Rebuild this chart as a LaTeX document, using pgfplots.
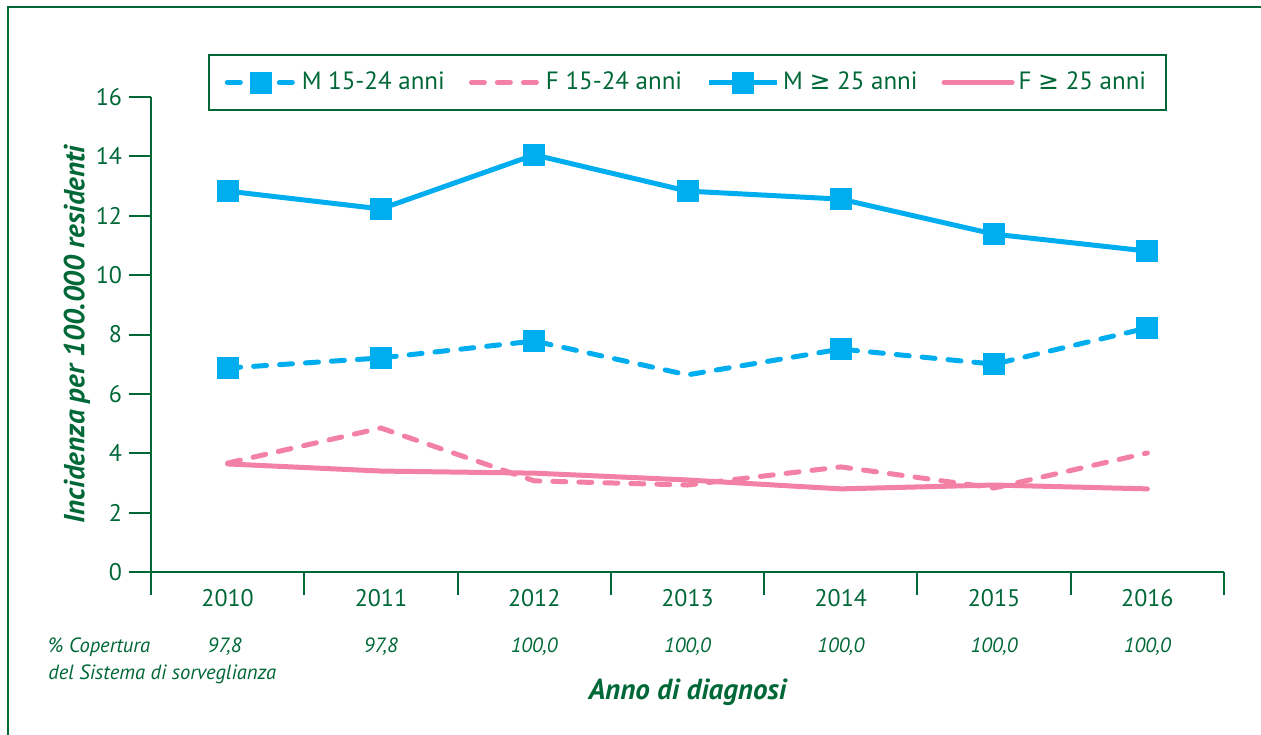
\documentclass[border=0pt]{standalone}
\usepackage{pgfplots}
\pgfplotsset{compat=1.18}
\usepackage{fontspec}
\setmainfont{PT Sans}
\newfontfamily\dejavu{DejaVu Sans}
\definecolor{dgreen}{RGB}{0,104,55}
\definecolor{cblue}{RGB}{0,174,239}
\definecolor{cpink}{RGB}{243,128,165}

\pgfplotstableread{
x  m1524 f1524 m25  f25
0  6.87  3.67  12.83 3.64
1  7.21  4.85  12.23 3.40
2  7.78  3.07  14.05 3.33
3  6.64  2.93  12.83 3.10
4  7.51  3.54  12.56 2.80
5  7.00  2.83  11.38 2.93
6  8.22  4.01  10.81 2.80
}\datatable

\begin{document}
\begin{tikzpicture}[x=1pt,y=1pt]
\useasboundingbox (0,0) rectangle (630.5,367);
\draw[dgreen, line width=0.8pt] (4,-10) -- (4,363.5) -- (640,363.5);
\begin{axis}[
  at={(75.5pt,81pt)}, anchor=south west,
  scale only axis, width=536.5pt, height=237.5pt,
  xmin=-0.5, xmax=6.5, ymin=0, ymax=16,
  clip=false,
  axis x line*=bottom, axis y line*=left,
  axis line style={dgreen, line width=1pt},
  tick align=outside,
  xtick={0,...,6},
  xticklabels={2010,2011,2012,2013,2014,2015,2016},
  minor xtick={-0.5,0.5,1.5,2.5,3.5,4.5,5.5,6.5},
  major x tick style={draw=none},
  ytick={0,2,...,16},
  major tick length=11pt,
  minor tick length=11.5pt,
  tick style={dgreen, line width=1pt},
  ticklabel style={font=\fontsize{12}{14}\selectfont, text=dgreen},
  xticklabel style={yshift=6pt},
  /pgf/number format/assume math mode=true,
  legend columns=4,
  legend style={at={(0.5,1.0305)}, anchor=center, draw=dgreen, line width=1pt,
    font=\fontsize{12.5}{15}\selectfont, text=dgreen,
    inner xsep=8pt, inner ysep=6.5pt,
    /tikz/every even column/.append style={column sep=10pt}},
  legend image code/.code={\draw[#1, mark indices={2}] plot coordinates {(0pt,0pt) (17pt,0pt) (34pt,0pt)};},
]
\addplot[cblue, line width=2.5pt, line cap=round, dash pattern=on 6.5pt off 6.5pt,
  mark=square*, mark size=5.25pt, mark options={solid, line width=0.5pt, draw=cblue, fill=cblue},
  mark indices={1,2,3,5,6,7}]
  table[x=x, y=m1524] {\datatable};
\addlegendentry{M 15-24 anni}
\addplot[cpink, line width=2.5pt, line cap=round, dash pattern=on 6.5pt off 6.5pt]
  table[x=x, y=f1524] {\datatable};
\addlegendentry{F 15-24 anni}
\addplot[cblue, line width=2.5pt, line join=round,
  mark=square*, mark size=5.25pt, mark options={solid, line width=0.5pt, draw=cblue, fill=cblue}]
  table[x=x, y=m25] {\datatable};
\addlegendentry{M {\dejavu ≥} 25 anni}
\addplot[cpink, line width=2.5pt, line join=round, line cap=round]
  table[x=x, y=f25] {\datatable};
\addlegendentry{F {\dejavu ≥} 25 anni}

\node[rotate=90, text=dgreen, font=\fontsize{14.5}{17}\selectfont\bfseries\itshape]
  at ([xshift=-37pt]rel axis cs:0,0.5) {Incidenza per 100.000 residenti};
\node[text=dgreen, font=\fontsize{14.5}{17}\selectfont\bfseries\itshape]
  at ([yshift=-60pt]rel axis cs:0.5,0) {Anno di diagnosi};
\node[text=dgreen, font=\fontsize{10.3}{12}\selectfont\itshape, anchor=west, inner sep=0pt]
  at ([xshift=-51.5pt, yshift=-37.5pt]rel axis cs:0,0) {\% Copertura};
\node[text=dgreen, font=\fontsize{10.3}{12}\selectfont\itshape, anchor=west, inner sep=0pt]
  at ([xshift=-51.5pt, yshift=-51pt]rel axis cs:0,0) {del Sistema di sorveglianza};
\node[text=dgreen, font=\fontsize{10.3}{12}\selectfont\itshape] at ([xshift=-1.5pt, yshift=-37.5pt]axis cs:0,0) {97,8};
\node[text=dgreen, font=\fontsize{10.3}{12}\selectfont\itshape] at ([yshift=-37.5pt]axis cs:1,0) {97,8};
\node[text=dgreen, font=\fontsize{10.3}{12}\selectfont\itshape] at ([yshift=-37.5pt]axis cs:2,0) {100,0};
\node[text=dgreen, font=\fontsize{10.3}{12}\selectfont\itshape] at ([yshift=-37.5pt]axis cs:3,0) {100,0};
\node[text=dgreen, font=\fontsize{10.3}{12}\selectfont\itshape] at ([yshift=-37.5pt]axis cs:4,0) {100,0};
\node[text=dgreen, font=\fontsize{10.3}{12}\selectfont\itshape] at ([yshift=-37.5pt]axis cs:5,0) {100,0};
\node[text=dgreen, font=\fontsize{10.3}{12}\selectfont\itshape] at ([yshift=-37.5pt]axis cs:6,0) {100,0};
\end{axis}
\end{tikzpicture}
\end{document}
